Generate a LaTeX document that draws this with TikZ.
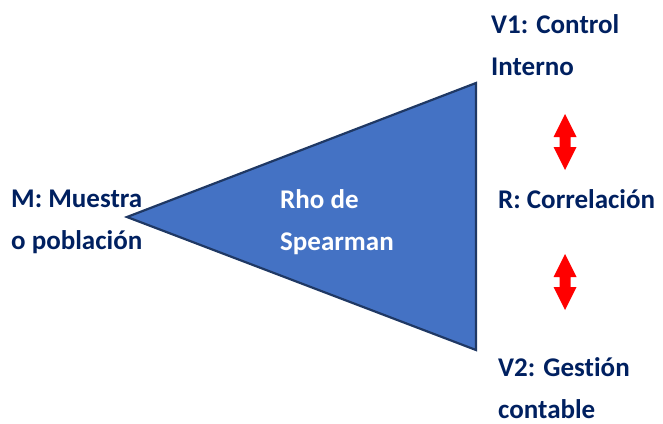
\documentclass[tikz,border=0pt]{standalone}
\usepackage{fontspec}
\setmainfont{Carlito}[Ligatures=NoCommon]
\definecolor{navy}{HTML}{002060}
\definecolor{triblue}{HTML}{4472C4}
\definecolor{triedge}{HTML}{1F3864}
\begin{document}
\begin{tikzpicture}[x=1pt,y=-1pt,
  lbl/.style={font=\fontsize{27}{42}\selectfont\bfseries, text=navy, align=left, inner sep=0pt, anchor=west},
  whitelbl/.style={lbl, text=white},
  redarrow/.style={fill=red, draw=none}]
\useasboundingbox (0,0) rectangle (663,423);
% triangle
\coordinate (tl) at (127,217);
\coordinate (tt) at (476,83);
\coordinate (tb) at (476,350);
\draw[fill=triblue, draw=triedge, line width=2.2pt, line join=miter] (tl) -- (tt) -- (tb) -- cycle;
% labels
\node[lbl] (m) at (11,222) {M: Muestra\\o población};
\node[whitelbl] (rho) at (280,222) {Rho de\\Spearman};
\node[lbl] (v1) at (491,45) {V1: Control\\Interno};
\node[lbl] (r) at (498,199) {R: Correlación};
\node[lbl] (v2) at (498,388) {V2: Gestión\\contable};
% red double arrows
\coordinate (a1) at (565,142);
\coordinate (a2) at (565,282);
\foreach \c in {a1,a2}{
  \fill[red] ([shift={(0,-28)}]\c) -- ([shift={(11.5,-5)}]\c) -- ([shift={(5.5,-5)}]\c) -- ([shift={(5.5,5)}]\c) -- ([shift={(11.5,5)}]\c) -- ([shift={(0,28)}]\c) -- ([shift={(-11.5,5)}]\c) -- ([shift={(-5.5,5)}]\c) -- ([shift={(-5.5,-5)}]\c) -- ([shift={(-11.5,-5)}]\c) -- cycle;
}
\end{tikzpicture}
\end{document}
